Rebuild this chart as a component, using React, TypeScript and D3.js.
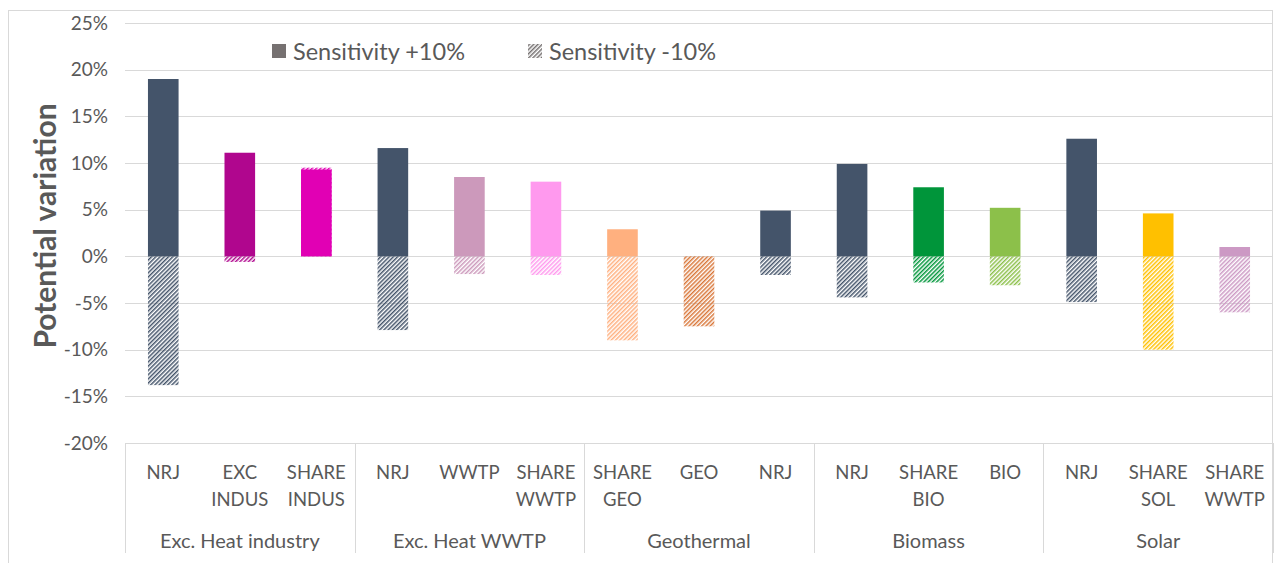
import * as d3 from "d3";
import React, { useEffect, useRef } from "react";

// groups and categories (label lines)
const groups = ["Exc. Heat industry", "Exc. Heat WWTP", "Geothermal", "Biomass", "Solar"];
const categories = [
  ["NRJ"], ["EXC", "INDUS"], ["SHARE", "INDUS"],
  ["NRJ"], ["WWTP"], ["SHARE", "WWTP"],
  ["SHARE", "GEO"], ["GEO"], ["NRJ"],
  ["NRJ"], ["SHARE", "BIO"], ["BIO"],
  ["NRJ"], ["SHARE", "SOL"], ["SHARE", "WWTP"],
];
// values in %
const plus10 = [19.0, 11.1, 9.3, 11.6, 8.5, 8.0, 2.9, 0, 4.9, 9.9, 7.4, 5.2, 12.6, 4.6, 1.0];
const minus10 = [-13.8, -0.6, 9.5, -7.9, -1.9, -2.0, -9.0, -7.5, -2.0, -4.4, -2.8, -3.1, -4.9, -10.0, -6.0];
const colors = [
  "#44546A", "#B0068E", "#E100B4",
  "#44546A", "#CC99BB", "#FF99EE",
  "#FFB07F", "#D9773A", "#44546A",
  "#44546A", "#00953A", "#8CC04A",
  "#44546A", "#FFC000", "#CC99C4",
];
const yTicks = [25, 20, 15, 10, 5, 0, -5, -10, -15, -20];

const W = 1276;
const H = 563;
const left = 125;
const right = 1273;
const top = 23;
const bottom = 443;
const font = "Lato, 'Open Sans', sans-serif";
const textColor = "#595959";

function App() {
  const svgRef = useRef(null);

  useEffect(() => {
    const svg = d3.select(svgRef.current);
    svg.selectAll("*").remove();

    const y = d3.scaleLinear().domain([-20, 25]).range([bottom, top]);
    const x = d3
      .scaleBand()
      .domain(categories.map((c, i) => String(i)))
      .range([left, right])
      .paddingInner(0.6)
      .paddingOuter(0.3);
    const groupW = (right - left) / groups.length;

    // hatch patterns, one per colour
    const defs = svg.append("defs");
    const makePattern = (id, color) => {
      const p = defs
        .append("pattern")
        .attr("id", id)
        .attr("patternUnits", "userSpaceOnUse")
        .attr("width", 3)
        .attr("height", 3)
        .attr("patternTransform", "rotate(45)");
      p.append("line")
        .attr("x1", 0.75).attr("y1", 0).attr("x2", 0.75).attr("y2", 3)
        .attr("stroke", color).attr("stroke-width", 1.5);
    };
    colors.forEach((c, i) => makePattern("hatch" + i, c));
    makePattern("hatchLegend", "#767171");

    // outer frame
    svg.append("rect")
      .attr("x", 8.5).attr("y", 10.5).attr("width", W - 12).attr("height", H)
      .attr("fill", "white").attr("stroke", "#D9D9D9");

    // gridlines
    svg.selectAll(".grid")
      .data(yTicks)
      .join("line")
      .attr("x1", left).attr("x2", right)
      .attr("y1", (d) => Math.round(y(d)) + 0.5)
      .attr("y2", (d) => Math.round(y(d)) + 0.5)
      .attr("stroke", "#D9D9D9").attr("stroke-width", 1);

    // y tick labels
    svg.selectAll(".ytick")
      .data(yTicks)
      .join("text")
      .attr("x", 108)
      .attr("y", (d) => y(d) + 6.5)
      .attr("text-anchor", "end")
      .attr("font-family", font).attr("font-size", 19)
      .attr("fill", textColor)
      .text((d) => d + "%");

    // y title
    svg.append("text")
      .attr("transform", `translate(56,226) rotate(-90)`)
      .attr("text-anchor", "middle")
      .attr("font-family", font).attr("font-size", 30).attr("font-weight", "bold")
      .attr("fill", textColor)
      .text("Potential variation");

    // +10% bars
    svg.selectAll(".plus")
      .data(plus10)
      .join("rect")
      .attr("x", (d, i) => x(String(i)))
      .attr("width", x.bandwidth())
      .attr("y", (d) => y(Math.max(0, d)))
      .attr("height", (d) => Math.abs(y(d) - y(0)))
      .attr("fill", (d, i) => colors[i]);

    // -10% bars (hatched)
    svg.selectAll(".minus")
      .data(minus10)
      .join("rect")
      .attr("x", (d, i) => x(String(i)))
      .attr("width", x.bandwidth())
      .attr("y", (d) => y(Math.max(0, d)))
      .attr("height", (d) => Math.abs(y(d) - y(0)))
      .attr("fill", (d, i) => `url(#hatch${i})`);

    // category axis separators
    const seps = d3.range(groups.length + 1);
    svg.selectAll(".sep")
      .data(seps)
      .join("line")
      .attr("x1", (d) => Math.round(left + d * groupW) + 0.5)
      .attr("x2", (d) => Math.round(left + d * groupW) + 0.5)
      .attr("y1", bottom).attr("y2", 553)
      .attr("stroke", "#D9D9D9");

    // category labels
    const cat = svg.selectAll(".cat")
      .data(categories)
      .join("text")
      .attr("text-anchor", "middle")
      .attr("font-family", font).attr("font-size", 18.5)
      .attr("fill", textColor);
    cat.each(function (lines, i) {
      const t = d3.select(this);
      lines.forEach((l, k) => {
        t.append("tspan")
          .attr("x", x(String(i)) + x.bandwidth() / 2)
          .attr("y", 479 + k * 27)
          .text(l);
      });
    });

    // group labels
    svg.selectAll(".grp")
      .data(groups)
      .join("text")
      .attr("x", (d, i) => left + (i + 0.5) * groupW)
      .attr("y", 548)
      .attr("text-anchor", "middle")
      .attr("font-family", font).attr("font-size", 20)
      .attr("fill", textColor)
      .text((d) => d);

    // legend
    const legend = [
      { label: "Sensitivity +10%", fill: "#767171", x: 272 },
      { label: "Sensitivity -10%", fill: "url(#hatchLegend)", x: 528 },
    ];
    const lg = svg.selectAll(".lg").data(legend).join("g");
    lg.append("rect")
      .attr("x", (d) => d.x).attr("y", 44).attr("width", 14).attr("height", 14)
      .attr("fill", (d) => d.fill);
    lg.append("text")
      .attr("x", (d) => d.x + 21).attr("y", 60)
      .attr("font-family", font).attr("font-size", 23.5)
      .attr("fill", textColor)
      .text((d) => d.label);
  }, []);

  return (
    <div style={{ position: "absolute", left: 0, top: 0 }}>
      <svg ref={svgRef} width={W} height={H} style={{ display: "block" }} />
    </div>
  );
}

export default App;
